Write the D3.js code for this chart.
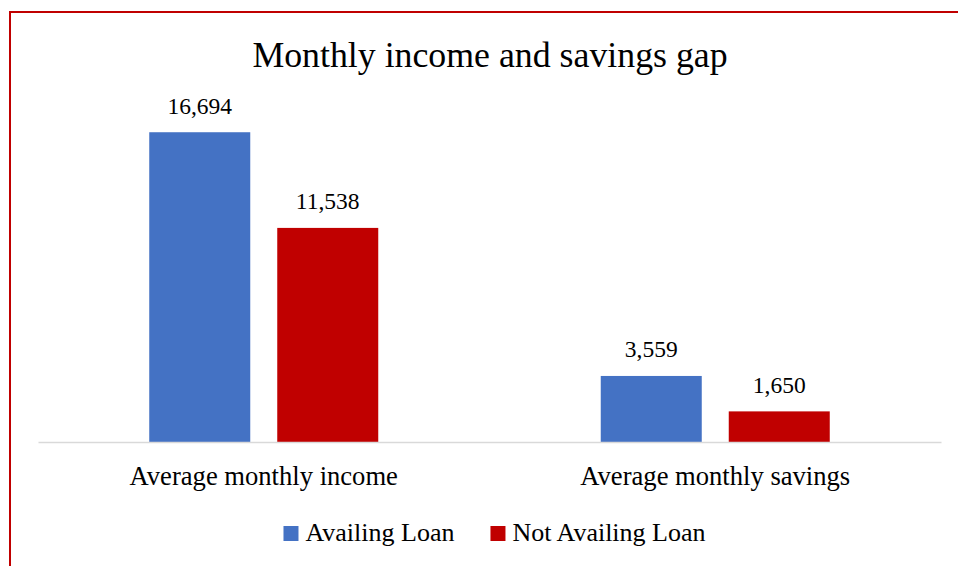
<!DOCTYPE html>
<html>
<head>
<meta charset="utf-8">
<script src="https://cdn.jsdelivr.net/npm/d3@7"></script>
<style>
  html, body { margin: 0; padding: 0; background: #fff; }
  svg { display: block; }
  text { font-family: "Liberation Serif", "Times New Roman", serif; fill: #000; }
</style>
</head>
<body>
<svg id="chart" width="958" height="566"></svg>
<script>
// Chart data
const title = "Monthly income and savings gap";
const categories = ["Average monthly income", "Average monthly savings"];
const seriesNames = ["Availing Loan", "Not Availing Loan"];
const availingLoan = [16694, 3559];
const notAvailingLoan = [11538, 1650];
const seriesColors = ["#4472C4", "#C00000"];

const seriesValues = [availingLoan, notAvailingLoan];
const rows = categories.map((c, i) => ({
  category: c,
  values: seriesNames.map((s, j) => ({ series: s, value: seriesValues[j][i], color: seriesColors[j] }))
}));

const svg = d3.select("#chart");

// Outer chart frame
svg.append("rect")
  .attr("x", 10).attr("y", 12)
  .attr("width", 1000).attr("height", 1000)
  .attr("fill", "none")
  .attr("stroke", "#C00000")
  .attr("stroke-width", 2);

// Title
svg.append("text")
  .attr("x", 490).attr("y", 67)
  .attr("text-anchor", "middle")
  .style("font-size", "35.8px")
  .text(title);

// Scales
const plotLeft = 38, plotRight = 941, baseline = 442, plotTop = 108;
const y = d3.scaleLinear().domain([0, 18000]).range([baseline, plotTop]);
const x0 = d3.scaleBand().domain(categories).range([plotLeft, plotRight]);
const groupWidth = 229;
const x1 = d3.scaleBand().domain(seriesNames).range([0, groupWidth]).paddingInner(27 / 128);
const groupOffset = (x0.bandwidth() - groupWidth) / 2;

// Bars
const groups = svg.append("g").selectAll("g")
  .data(rows).join("g")
  .attr("transform", d => `translate(${x0(d.category) + groupOffset},0)`);

groups.selectAll("rect")
  .data(d => d.values).join("rect")
  .attr("x", d => x1(d.series))
  .attr("y", d => y(d.value))
  .attr("width", x1.bandwidth())
  .attr("height", d => baseline - y(d.value))
  .attr("fill", d => d.color);

// Value labels
groups.selectAll("text.value")
  .data(d => d.values).join("text")
  .attr("class", "value")
  .attr("x", d => x1(d.series) + x1.bandwidth() / 2)
  .attr("y", d => y(d.value) - 18.5)
  .attr("text-anchor", "middle")
  .style("font-size", "23.5px")
  .text(d => d3.format(",")(d.value));

// Category axis
const axis = svg.append("g")
  .attr("transform", `translate(0,${baseline})`)
  .call(d3.axisBottom(x0).tickSize(0).tickSizeOuter(0));
axis.select(".domain").attr("stroke", "#D9D9D9").attr("stroke-width", 1.5);
axis.selectAll(".tick text")
  .attr("y", 43).attr("dy", 0)
  .attr("fill", "#000")
  .style("font-family", "'Liberation Serif', 'Times New Roman', serif")
  .style("font-size", "26.6px");

// Legend
const legend = svg.append("g");
const items = legend.selectAll("g").data(seriesNames).join("g");
items.append("rect")
  .attr("width", 15).attr("height", 15)
  .attr("y", 526)
  .attr("fill", (d, i) => seriesColors[i]);
items.append("text")
  .attr("x", 22).attr("y", 541)
  .style("font-size", "26px")
  .text(d => d);
const itemGap = 36;
const widths = [];
items.each(function() {
  const w = 22 + d3.select(this).select("text").node().getComputedTextLength();
  widths.push(w);
});
const total = d3.sum(widths) + itemGap * (widths.length - 1);
let cursor = 494.5 - total / 2;
items.each(function(d, i) {
  d3.select(this).attr("transform", `translate(${cursor},0)`);
  d3.select(this).select("rect").attr("x", 0);
  cursor += widths[i] + itemGap;
});
</script>
</body>
</html>
